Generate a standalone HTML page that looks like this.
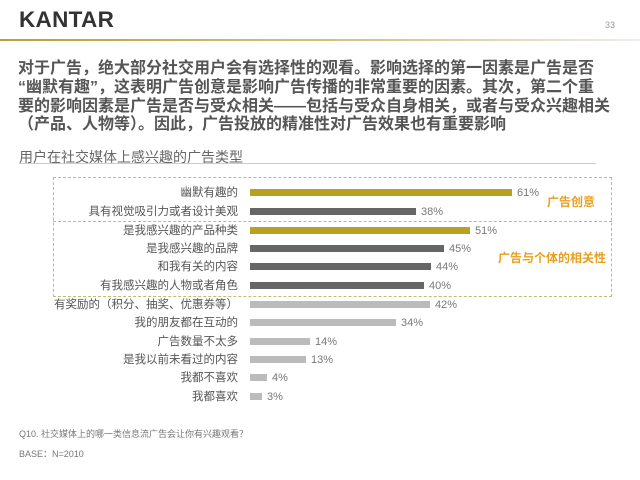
<!DOCTYPE html>
<html><head><meta charset="utf-8"><style>
body{margin:0;width:640px;height:480px;background:#fff;position:relative;overflow:hidden;font-family:"Liberation Sans","Noto Sans CJK SC",sans-serif;color:#555}
.a{position:absolute;white-space:nowrap}
.lab{position:absolute;font-size:11.5px;color:#555;text-align:right;line-height:14px;white-space:nowrap}
.bar{position:absolute;height:7px}
.pct{position:absolute;font-size:11px;color:#777;line-height:14px}
</style></head><body>
<div class="a" style="left:19px;top:7px;font-size:22.5px;font-weight:bold;color:#333;letter-spacing:0.3px">KANTAR</div>
<div class="a" style="left:605px;top:20px;font-size:9px;color:#999">33</div>
<div class="a" style="left:0;top:39px;width:640px;height:2px;background:linear-gradient(90deg,#b8a038,#d8c888 60%,#eee)"></div>
<div class="a" style="left:18px;top:60px;font-size:16px;font-weight:bold;color:#555;line-height:18.8px;white-space:normal;width:620px">对于广告，绝大部分社交用户会有选择性的观看。影响选择的第一因素是广告是否<br>“幽默有趣”，这表明广告创意是影响广告传播的非常重要的因素。其次，第二个重<br>要的影响因素是广告是否与受众相关——包括与受众自身相关，或者与受众兴趣相关<br>（产品、人物等）。因此，广告投放的精准性对广告效果也有重要影响</div>
<div class="a" style="left:19px;top:147px;font-size:14px;color:#666">用户在社交媒体上感兴趣的广告类型</div>
<div class="a" style="left:19px;top:163px;width:577px;height:1px;background:#ccc"></div>
<div class="a" style="left:53px;top:177px;width:557px;height:118px;border:1px dashed #c8b870"></div>
<div class="a" style="left:53px;top:221px;width:559px;border-top:1px dashed #c8b870"></div>
<div class="a" style="left:547px;top:193px;font-size:12px;font-weight:bold;color:#e8a020">广告创意</div>
<div class="a" style="left:498px;top:249px;font-size:12px;font-weight:bold;color:#e8a020">广告与个体的相关性</div>

<div class="lab" style="right:402px;top:186px">幽默有趣的</div><div class="bar" style="left:250px;top:189px;width:262px;background:#b8a020"></div><div class="pct" style="left:517px;top:186px">61%</div>
<div class="lab" style="right:402px;top:205px">具有视觉吸引力或者设计美观</div><div class="bar" style="left:250px;top:208px;width:166px;background:#666"></div><div class="pct" style="left:421px;top:205px">38%</div>
<div class="lab" style="right:402px;top:224px">是我感兴趣的产品种类</div><div class="bar" style="left:250px;top:227px;width:220px;background:#b8a020"></div><div class="pct" style="left:475px;top:224px">51%</div>
<div class="lab" style="right:402px;top:242px">是我感兴趣的品牌</div><div class="bar" style="left:250px;top:245px;width:194px;background:#666"></div><div class="pct" style="left:449px;top:242px">45%</div>
<div class="lab" style="right:402px;top:260px">和我有关的内容</div><div class="bar" style="left:250px;top:263px;width:181px;background:#666"></div><div class="pct" style="left:436px;top:260px">44%</div>
<div class="lab" style="right:402px;top:279px">有我感兴趣的人物或者角色</div><div class="bar" style="left:250px;top:282px;width:174px;background:#666"></div><div class="pct" style="left:429px;top:279px">40%</div>

<div class="lab" style="right:402px;top:298px">有奖励的（积分、抽奖、优惠券等）</div><div class="bar" style="left:250px;top:301px;width:180px;background:#bbb"></div><div class="pct" style="left:435px;top:298px">42%</div>
<div class="lab" style="right:402px;top:316px">我的朋友都在互动的</div><div class="bar" style="left:250px;top:319px;width:146px;background:#bbb"></div><div class="pct" style="left:401px;top:316px">34%</div>
<div class="lab" style="right:402px;top:335px">广告数量不太多</div><div class="bar" style="left:250px;top:338px;width:60px;background:#bbb"></div><div class="pct" style="left:315px;top:335px">14%</div>
<div class="lab" style="right:402px;top:353px">是我以前未看过的内容</div><div class="bar" style="left:250px;top:356px;width:56px;background:#bbb"></div><div class="pct" style="left:311px;top:353px">13%</div>
<div class="lab" style="right:402px;top:371px">我都不喜欢</div><div class="bar" style="left:250px;top:374px;width:17px;background:#bbb"></div><div class="pct" style="left:272px;top:371px">4%</div>
<div class="lab" style="right:402px;top:390px">我都喜欢</div><div class="bar" style="left:250px;top:393px;width:12px;background:#bbb"></div><div class="pct" style="left:267px;top:390px">3%</div>

<div class="a" style="left:19px;top:427px;font-size:9px;color:#777">Q10. 社交媒体上的哪一类信息流广告会让你有兴趣观看？</div>
<div class="a" style="left:19px;top:447px;font-size:9px;color:#777">BASE：N=2010</div>
</body></html>
